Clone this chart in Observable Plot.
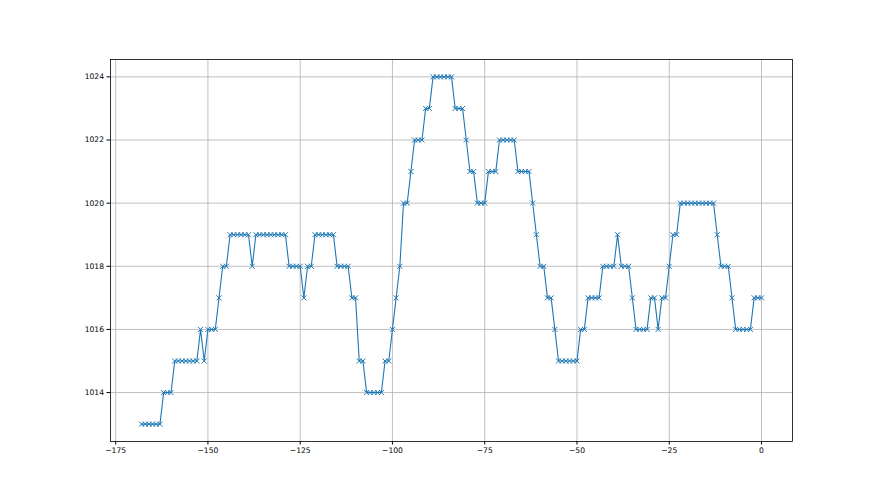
<!DOCTYPE html>
<html>
<head>
<meta charset="utf-8">
<script src="https://cdn.jsdelivr.net/npm/d3@7"></script>
<script src="https://cdn.jsdelivr.net/npm/@observablehq/plot@0.6"></script>
<style>
  html, body { margin: 0; padding: 0; background: #ffffff; }
  #chart svg { display: block; }
</style>
</head>
<body>
<div id="chart"></div>
<script>
// Hours relative to the latest observation (hourly readings)
const hours = d3.range(-168, 1);

// Pressure readings (hPa), one per hour from -168 to 0
const pressure = [
  1013,1013,1013,1013,1013,1013,
  1014,1014,1014,
  1015,1015,1015,1015,1015,1015,1015,
  1016,1015,1016,1016,1016,1017,1018,1018,
  1019,1019,1019,1019,1019,1019,1018,
  1019,1019,1019,1019,1019,1019,1019,1019,1019,
  1018,1018,1018,1018,1017,1018,1018,
  1019,1019,1019,1019,1019,1019,
  1018,1018,1018,1018,1017,1017,1015,1015,
  1014,1014,1014,1014,1014,1015,1015,
  1016,1017,1018,1020,1020,1021,1022,1022,1022,1023,1023,
  1024,1024,1024,1024,1024,1024,
  1023,1023,1023,1022,1021,1021,1020,1020,1020,
  1021,1021,1021,1022,1022,1022,1022,1022,
  1021,1021,1021,1021,1020,1019,1018,1018,1017,1017,1016,
  1015,1015,1015,1015,1015,1015,1016,1016,
  1017,1017,1017,1017,1018,1018,1018,1018,1019,
  1018,1018,1018,1017,1016,1016,1016,1016,
  1017,1017,1016,1017,1017,1018,1019,1019,
  1020,1020,1020,1020,1020,1020,1020,1020,1020,1020,
  1019,1018,1018,1018,1017,1016,1016,1016,1016,1016,
  1017,1017,1017
];

const xTicks = [-175, -150, -125, -100, -75, -50, -25, 0];
const yTicks = [1014, 1016, 1018, 1020, 1022, 1024];

const data = hours.map((h, i) => ({hour: h, hPa: pressure[i]}));

const minusFmt = d => (d < 0 ? "\u2212" + Math.abs(d) : String(d));
const blue = "#1f77b4";

const chart = Plot.plot({
  width: 880,
  height: 495,
  marginLeft: 110,
  marginRight: 88,
  marginTop: 59,
  marginBottom: 54,
  style: {
    background: "#ffffff",
    color: "#000000",
    fontFamily: "DejaVu Sans, sans-serif",
    fontSize: "7.6px"
  },
  x: {
    domain: [-176.4, 8.4],
    ticks: xTicks,
    tickFormat: minusFmt,
    tickSize: 3.5,
    tickPadding: 3,
    label: null
  },
  y: {
    domain: [1012.45, 1024.55],
    ticks: yTicks,
    tickFormat: d => String(d),
    tickSize: 3.5,
    tickPadding: 3,
    label: null
  },
  marks: [
    Plot.ruleX(xTicks, {stroke: "#b0b0b0", strokeWidth: 0.8}),
    Plot.ruleY(yTicks, {stroke: "#b0b0b0", strokeWidth: 0.8}),
    Plot.line(data, {x: "hour", y: "hPa", stroke: blue, strokeWidth: 1.1}),
    Plot.dot(data, {x: "hour", y: "hPa", symbol: "times", r: 2.4, stroke: blue, strokeWidth: 1}),
    Plot.frame({stroke: "#000000", strokeWidth: 0.8})
  ]
});

document.getElementById("chart").appendChild(chart);
</script>
</body>
</html>
